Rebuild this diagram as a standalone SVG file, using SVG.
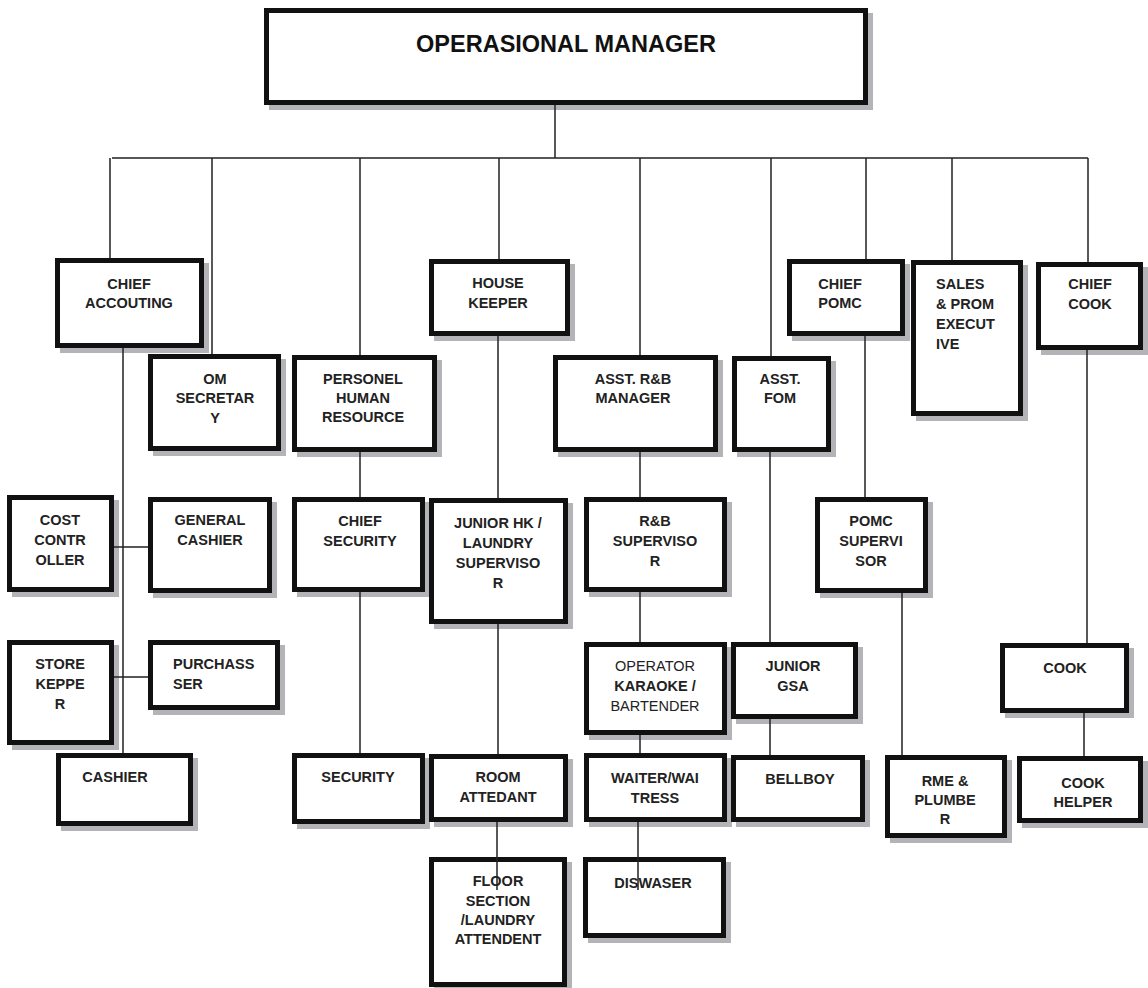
<svg xmlns="http://www.w3.org/2000/svg" width="1148" height="988" viewBox="0 0 1148 988">
<style>
.sh{fill:#b4b4b8}
.bx{fill:#fff;stroke:#111;stroke-width:5}
.t{font-family:"Liberation Sans",Arial,sans-serif;font-weight:bold;font-size:14.5px;fill:#222;text-anchor:middle}
.l{text-anchor:start}
.r{font-weight:normal}
.tt{font-family:"Liberation Sans",Arial,sans-serif;font-weight:bold;font-size:23.5px;fill:#111;text-anchor:middle}
.c{stroke:#222;stroke-width:1.5;fill:none}
</style>
<rect width="1148" height="988" fill="#fff"/>
<g id="om"><rect class="sh" x="269" y="13" width="604" height="97"/><rect class="bx" x="266.5" y="10.5" width="599" height="92"/><text class="tt" x="566" y="52">OPERASIONAL MANAGER</text></g>
<g id="chief_acc"><rect class="sh" x="60" y="263" width="149" height="90"/><rect class="bx" x="57.5" y="260.5" width="144" height="85"/><text class="t" x="129" y="289">CHIEF</text><text class="t" x="129" y="308">ACCOUTING</text></g>
<g id="om_sec"><rect class="sh" x="153" y="359" width="133" height="97"/><rect class="bx" x="150.5" y="356.5" width="128" height="92"/><text class="t" x="215" y="384">OM</text><text class="t" x="215" y="403">SECRETAR</text><text class="t" x="215" y="423">Y</text></g>
<g id="personel"><rect class="sh" x="297" y="360" width="145" height="97"/><rect class="bx" x="294.5" y="357.5" width="140" height="92"/><text class="t" x="363" y="384">PERSONEL</text><text class="t" x="363" y="403">HUMAN</text><text class="t" x="363" y="422">RESOURCE</text></g>
<g id="house_keeper"><rect class="sh" x="434" y="264" width="141" height="77"/><rect class="bx" x="431.5" y="261.5" width="136" height="72"/><text class="t" x="498" y="288">HOUSE</text><text class="t" x="498" y="308">KEEPER</text></g>
<g id="asst_rb"><rect class="sh" x="558" y="360" width="165" height="97"/><rect class="bx" x="555.5" y="357.5" width="160" height="92"/><text class="t" x="633" y="384">ASST. R&amp;B</text><text class="t" x="633" y="403">MANAGER</text></g>
<g id="asst_fom"><rect class="sh" x="737" y="361" width="99" height="96"/><rect class="bx" x="734.5" y="358.5" width="94" height="91"/><text class="t" x="780" y="384">ASST.</text><text class="t" x="780" y="403">FOM</text></g>
<g id="chief_pomc"><rect class="sh" x="792" y="264" width="118" height="77"/><rect class="bx" x="789.5" y="261.5" width="113" height="72"/><text class="t" x="840" y="289">CHIEF</text><text class="t" x="840" y="308">POMC</text></g>
<g id="sales"><rect class="sh" x="916" y="265" width="112" height="156"/><rect class="bx" x="913.5" y="262.5" width="107" height="151"/><text class="t l" x="936" y="289">SALES</text><text class="t l" x="936" y="309">&amp; PROM</text><text class="t l" x="936" y="329">EXECUT</text><text class="t l" x="936" y="349">IVE</text></g>
<g id="chief_cook"><rect class="sh" x="1041" y="267" width="107" height="88"/><rect class="bx" x="1038.5" y="264.5" width="102" height="83"/><text class="t" x="1090" y="289">CHIEF</text><text class="t" x="1090" y="309">COOK</text></g>
<g id="cost_ctrl"><rect class="sh" x="12" y="500" width="107" height="97"/><rect class="bx" x="9.5" y="497.5" width="102" height="92"/><text class="t" x="60" y="525">COST</text><text class="t" x="60" y="545">CONTR</text><text class="t" x="60" y="565">OLLER</text></g>
<g id="gen_cashier"><rect class="sh" x="153" y="502" width="124" height="96"/><rect class="bx" x="150.5" y="499.5" width="119" height="91"/><text class="t" x="210" y="525">GENERAL</text><text class="t" x="210" y="545">CASHIER</text></g>
<g id="store_kepper"><rect class="sh" x="12" y="645" width="107" height="105"/><rect class="bx" x="9.5" y="642.5" width="102" height="100"/><text class="t" x="60" y="669">STORE</text><text class="t" x="60" y="689">KEPPE</text><text class="t" x="60" y="709">R</text></g>
<g id="purchasser"><rect class="sh" x="153" y="645" width="132" height="70"/><rect class="bx" x="150.5" y="642.5" width="127" height="65"/><text class="t l" x="173" y="669">PURCHASS</text><text class="t l" x="173" y="689">SER</text></g>
<g id="cashier"><rect class="sh" x="61" y="758" width="137" height="73"/><rect class="bx" x="58.5" y="755.5" width="132" height="68"/><text class="t" x="115" y="782">CASHIER</text></g>
<g id="chief_sec"><rect class="sh" x="297" y="502" width="133" height="95"/><rect class="bx" x="294.5" y="499.5" width="128" height="90"/><text class="t" x="360" y="526">CHIEF</text><text class="t" x="360" y="546">SECURITY</text></g>
<g id="junior_hk"><rect class="sh" x="434" y="503" width="139" height="126"/><rect class="bx" x="431.5" y="500.5" width="134" height="121"/><text class="t" x="498" y="528">JUNIOR HK /</text><text class="t" x="498" y="548">LAUNDRY</text><text class="t" x="498" y="568">SUPERVISO</text><text class="t" x="498" y="588">R</text></g>
<g id="security"><rect class="sh" x="297" y="758" width="133" height="71"/><rect class="bx" x="294.5" y="755.5" width="128" height="66"/><text class="t" x="358" y="782">SECURITY</text></g>
<g id="room_att"><rect class="sh" x="434" y="759" width="139" height="68"/><rect class="bx" x="431.5" y="756.5" width="134" height="63"/><text class="t" x="498" y="782">ROOM</text><text class="t" x="498" y="802">ATTEDANT</text></g>
<g id="rb_sup"><rect class="sh" x="589" y="502" width="143" height="95"/><rect class="bx" x="586.5" y="499.5" width="138" height="90"/><text class="t" x="655" y="526">R&amp;B</text><text class="t" x="655" y="546">SUPERVISO</text><text class="t" x="655" y="566">R</text></g>
<g id="operator"><rect class="sh" x="589" y="647" width="143" height="93"/><rect class="bx" x="586.5" y="644.5" width="138" height="88"/><text class="t r" x="655" y="671">OPERATOR</text><text class="t" x="655" y="691">KARAOKE /</text><text class="t r" x="655" y="711">BARTENDER</text></g>
<g id="junior_gsa"><rect class="sh" x="736" y="647" width="127" height="77"/><rect class="bx" x="733.5" y="644.5" width="122" height="72"/><text class="t" x="793" y="671">JUNIOR</text><text class="t" x="793" y="691">GSA</text></g>
<g id="waiter"><rect class="sh" x="589" y="758" width="143" height="69"/><rect class="bx" x="586.5" y="755.5" width="138" height="64"/><text class="t" x="655" y="783">WAITER/WAI</text><text class="t" x="655" y="803">TRESS</text></g>
<g id="bellboy"><rect class="sh" x="736" y="760" width="134" height="67"/><rect class="bx" x="733.5" y="757.5" width="129" height="62"/><text class="t" x="800" y="784">BELLBOY</text></g>
<g id="pomc_sup"><rect class="sh" x="820" y="502" width="113" height="96"/><rect class="bx" x="817.5" y="499.5" width="108" height="91"/><text class="t" x="871" y="526">POMC</text><text class="t" x="871" y="546">SUPERVI</text><text class="t" x="871" y="566">SOR</text></g>
<g id="rme"><rect class="sh" x="890" y="760" width="122" height="83"/><rect class="bx" x="887.5" y="757.5" width="117" height="78"/><text class="t" x="945" y="786">RME &amp;</text><text class="t" x="945" y="805">PLUMBE</text><text class="t" x="945" y="824">R</text></g>
<g id="cook"><rect class="sh" x="1005" y="648" width="129" height="70"/><rect class="bx" x="1002.5" y="645.5" width="124" height="65"/><text class="t" x="1065" y="673">COOK</text></g>
<g id="cook_helper"><rect class="sh" x="1022" y="761" width="126" height="67"/><rect class="bx" x="1019.5" y="758.5" width="121" height="62"/><text class="t" x="1083" y="788">COOK</text><text class="t" x="1083" y="807">HELPER</text></g>
<g id="floor"><rect class="sh" x="434" y="862" width="138" height="130"/><rect class="bx" x="431.5" y="859.5" width="133" height="125"/><text class="t" x="498" y="886">FLOOR</text><text class="t" x="498" y="906">SECTION</text><text class="t" x="498" y="925">/LAUNDRY</text><text class="t" x="498" y="944">ATTENDENT</text></g>
<g id="diswaser"><rect class="sh" x="588" y="862" width="143" height="81"/><rect class="bx" x="585.5" y="859.5" width="138" height="76"/><text class="t" x="653" y="888">DISWASER</text></g>
<g id="connectors" class="c">
<path d="M555 105V158M112 158H1088"/>
<path d="M110 158V258M212 158V354M360 158V355M499 158V259M640 158V355M771 158V356M866 158V259M952 158V260M1088 158V262"/>
<path d="M123 348V753M114 547H148M114 677H148"/>
<path d="M360 452V497M360 592V753"/>
<path d="M498 336V498M498 624V754M497 822V890"/>
<path d="M640 452V497M640 592V642M640 735V753M638 822V890"/>
<path d="M770 452V642M770 719V755"/>
<path d="M865 336V497M902 593V755"/>
<path d="M1087 350V643M1084 713V756"/>
</g>
</svg>
